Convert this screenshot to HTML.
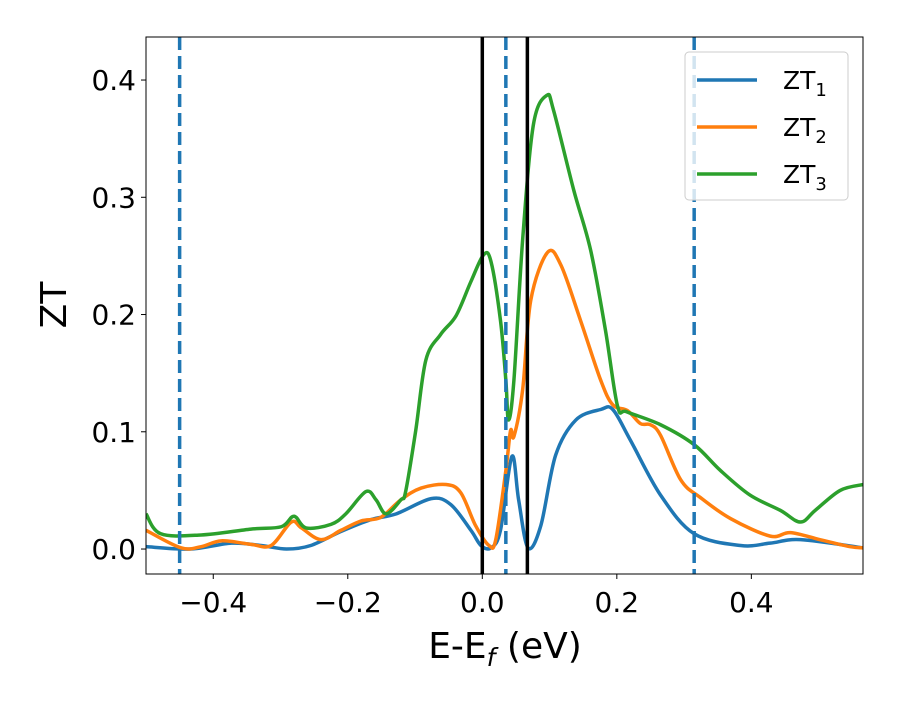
<!DOCTYPE html>
<html><head><meta charset="utf-8"><style>
body{margin:0;background:#fff}
svg text{font-family:"DejaVu Sans","Liberation Sans",sans-serif;fill:#000}
</style></head><body>
<svg id="c" width="900" height="700" xmlns="http://www.w3.org/2000/svg"></svg>
<script>
const xTicks=[-0.4,-0.2,0.0,0.2,0.4];
const xTickLabels=["\u22120.4","\u22120.2","0.0","0.2","0.4"];
const yTicks=[0.0,0.1,0.2,0.3,0.4];
const yTickLabels=["0.0","0.1","0.2","0.3","0.4"];
const dashedLines=[-0.45,0.035,0.315];
const solidLines=[0.0,0.067];
const zt1X=[-0.5,-0.433,-0.373,-0.329,-0.291,-0.255,-0.21,-0.166,-0.128,-0.076,-0.047,-0.017,-0.002,0.013,0.027,0.044,0.054,0.068,0.087,0.109,0.139,0.176,0.194,0.22,0.265,0.315,0.384,0.428,0.473,0.566];
const zt1Y=[0.002,0.0,0.005,0.003,0.0,0.003,0.015,0.025,0.03,0.043,0.038,0.016,0.003,0.001,0.016,0.079,0.042,0.001,0.02,0.08,0.11,0.119,0.119,0.093,0.046,0.013,0.003,0.005,0.008,0.001];
const zt2X=[-0.5,-0.448,-0.418,-0.388,-0.344,-0.314,-0.284,-0.269,-0.24,-0.21,-0.18,-0.151,-0.121,-0.091,-0.054,-0.032,-0.01,0.01,0.02,0.035,0.042,0.047,0.06,0.072,0.097,0.117,0.146,0.176,0.194,0.216,0.235,0.25,0.265,0.295,0.324,0.369,0.428,0.458,0.502,0.547,0.566];
const zt2Y=[0.016,0.001,0.002,0.007,0.004,0.003,0.023,0.018,0.008,0.016,0.024,0.027,0.042,0.052,0.055,0.048,0.02,0.003,0.008,0.067,0.101,0.096,0.136,0.212,0.253,0.242,0.195,0.144,0.123,0.118,0.107,0.106,0.097,0.059,0.044,0.026,0.011,0.014,0.008,0.002,0.001];
const zt3X=[-0.5,-0.478,-0.418,-0.344,-0.299,-0.28,-0.262,-0.225,-0.203,-0.173,-0.158,-0.143,-0.121,-0.114,-0.099,-0.084,-0.062,-0.039,-0.017,0.002,0.013,0.027,0.035,0.039,0.047,0.06,0.076,0.096,0.106,0.136,0.161,0.183,0.201,0.215,0.265,0.315,0.354,0.398,0.443,0.473,0.495,0.532,0.566];
const zt3Y=[0.03,0.013,0.012,0.017,0.019,0.028,0.018,0.021,0.03,0.049,0.042,0.03,0.042,0.049,0.101,0.161,0.183,0.199,0.228,0.251,0.245,0.195,0.144,0.11,0.144,0.264,0.362,0.387,0.374,0.306,0.255,0.187,0.122,0.117,0.106,0.089,0.067,0.046,0.033,0.023,0.033,0.05,0.055];
const seriesNames=["ZT","ZT","ZT"];
const seriesSubs=["1","2","3"];
const colors=["#1f77b4","#ff7f0e","#2ca02c"];

const L=146,R=863,T=37,B=574,X0=-0.5,X1=0.566,Y0=-0.0213,Y1=0.4367;
const sx=v=>L+(v-X0)/(X1-X0)*(R-L);
const sy=v=>B-(v-Y0)/(Y1-Y0)*(B-T);
const svg=document.getElementById('c');
const NS="http://www.w3.org/2000/svg";
function mk(tag,attrs,parent){const e=document.createElementNS(NS,tag);for(const k in attrs)e.setAttribute(k,attrs[k]);(parent||svg).appendChild(e);return e;}
const defs=mk('defs',{});
const cp=mk('clipPath',{id:'clip'},defs);mk('rect',{x:L,y:T,width:R-L,height:B-T},cp);
const plot=mk('g',{'clip-path':'url(#clip)'});


function path(xs,ys){const p=xs.map((x,i)=>[sx(x),sy(ys[i])]);let d=`M${p[0][0]},${p[0][1]}`;
for(let i=0;i<p.length-1;i++){const p0=p[Math.max(0,i-1)],p1=p[i],p2=p[i+1],p3=p[Math.min(p.length-1,i+2)];
d+=` C${p1[0]+(p2[0]-p0[0])/6},${p1[1]+(p2[1]-p0[1])/6} ${p2[0]-(p3[0]-p1[0])/6},${p2[1]-(p3[1]-p1[1])/6} ${p2[0]},${p2[1]}`;}return d;}
const data=[[zt1X,zt1Y],[zt2X,zt2Y],[zt3X,zt3Y]];
data.forEach((s,i)=>{const e=mk('path',{d:path(s[0],s[1]),fill:'none',stroke:colors[i],'stroke-width':3.5,'stroke-linejoin':'round'},plot);

});
dashedLines.forEach(v=>{const e=mk('line',{x1:sx(v),x2:sx(v),y1:T,y2:B,stroke:'#1f77b4','stroke-width':3.5,'stroke-dasharray':'13,6'},plot);

});
solidLines.forEach(v=>{const e=mk('line',{x1:sx(v),x2:sx(v),y1:T,y2:B,stroke:'#000','stroke-width':3.5},plot);

});
const fr=mk('rect',{x:L,y:T,width:R-L,height:B-T,fill:'none',stroke:'#000','stroke-width':1});


xTicks.forEach((v,i)=>{mk('line',{x1:sx(v),x2:sx(v),y1:B,y2:B+5,stroke:'#000'});
const t=mk('text',{x:sx(v),y:B+38,'text-anchor':'middle','font-size':28});t.textContent=xTickLabels[i];

});
yTicks.forEach((v,i)=>{mk('line',{x1:L-5,x2:L,y1:sy(v),y2:sy(v),stroke:'#000'});
const t=mk('text',{x:L-10,y:sy(v)+10,'text-anchor':'end','font-size':28});t.textContent=yTickLabels[i];

});
const xl=mk('text',{x:505,y:658,'text-anchor':'middle','font-size':36});
xl.innerHTML='E-E<tspan font-size="25" font-style="italic" dy="8">f</tspan><tspan dy="-8"> (eV)</tspan>';


const yl=mk('text',{x:0,y:0,'text-anchor':'middle','font-size':36,transform:'translate(66,305) rotate(-90)'});yl.textContent='ZT';


const lg=mk('g',{});


mk('rect',{x:685,y:52,width:163,height:148,rx:4,fill:'#fff','fill-opacity':0.8,stroke:'#ccc'},lg);
seriesNames.forEach((n,i)=>{const y=80+i*47;
const g=mk('g',{},lg);


mk('line',{x1:697,x2:757,y1:y,y2:y,stroke:colors[i],'stroke-width':3.5},g);
const t=mk('text',{x:783,y:y+9,'font-size':25},g);
t.innerHTML=n+'<tspan font-size="18" dy="7">'+seriesSubs[i]+'</tspan>';});
</script>
</body></html>
